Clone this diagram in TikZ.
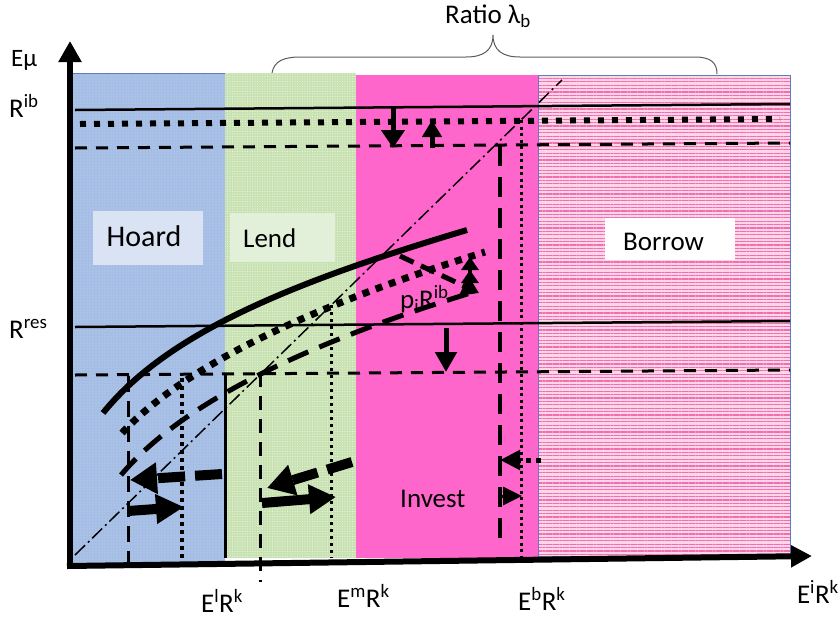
\documentclass[tikz,border=0pt]{standalone}
\usepackage{fontspec}
\setmainfont{Carlito}
\usetikzlibrary{arrows.meta,patterns.meta}

\definecolor{hoardblue}{RGB}{164,189,228}
\definecolor{hoarddot}{RGB}{196,212,240}
\definecolor{lendgreen}{RGB}{200,225,176}
\definecolor{lenddot}{RGB}{234,244,224}
\definecolor{investpink}{RGB}{255,102,204}
\definecolor{borrowbase}{RGB}{255,214,232}
\definecolor{borrowline}{RGB}{242,110,178}
\definecolor{frameblue}{RGB}{96,124,190}
\definecolor{hoardlabel}{RGB}{218,227,243}
\definecolor{lendlabel}{RGB}{226,239,217}
\definecolor{bracegray}{RGB}{90,90,90}

\begin{document}
\begin{tikzpicture}[x=1pt,y=-1pt,
  lbl/.style={font=\fontsize{27}{30}\selectfont, inner sep=0pt},
  level/.style={line width=2.5pt},
  levelsq/.style={line width=6pt, dash pattern=on 6pt off 8pt},
  leveldash/.style={line width=3pt, dash pattern=on 12pt off 9pt},
  dashdot/.style={line width=1.5pt, dash pattern=on 14pt off 4pt on 2pt off 4pt},
  curvesolid/.style={line width=6pt},
  curvedot/.style={line width=7pt, dash pattern=on 7pt off 7pt},
  curvedash/.style={line width=5pt, dash pattern=on 22pt off 12pt},
  bigarrow/.style={line width=10pt, -{Triangle[length=27pt,width=30pt]}},
  smallarrow/.style={line width=5pt, -{Triangle[length=18pt,width=21pt]}}
]
\useasboundingbox (0,0) rectangle (840,619);

% regions
\fill[hoardblue] (68,73) rectangle (225,566);
\fill[pattern={Dots[distance=3pt,radius=0.6pt]}, pattern color=hoarddot] (68,73) rectangle (225,566);
\draw[frameblue, line width=1pt] (68,73) -- (225,73);
\fill[lendgreen] (225,73) rectangle (356,558);
\fill[pattern={Dots[distance=2.5pt,radius=0.55pt]}, pattern color=lenddot] (225,73) rectangle (356,558);
\fill[investpink] (356,75) rectangle (538,558);
\fill[borrowbase] (538,75) rectangle (790,556);
\fill[pattern={Lines[angle=0,distance=3.4pt,line width=1.1pt]}, pattern color=borrowline] (538,75) rectangle (790,556);
\draw[frameblue, line width=1pt] (538,75) rectangle (790,556);

% region labels
\node[fill=hoardlabel, minimum width=110pt, minimum height=54pt, inner sep=0pt] (hoardbox) at (148,238) {};
\node[lbl, font=\fontsize{30}{33}\selectfont, anchor=base] (hoard) at (144,246) {Hoard};
\node[fill=lendlabel, minimum width=105pt, minimum height=49pt, inner sep=0pt] (lendbox) at (282,237) {};
\node[lbl, anchor=base west] (lend) at (243,247) {Lend};
\node[fill=white, minimum width=130pt, minimum height=42pt, inner sep=0pt] (borrowbox) at (670,239) {};
\node[lbl, anchor=base west] (borrow) at (623,250) {Borrow};
\node[lbl, anchor=base west] (invest) at (400,507) {Invest};

% brace over the ratio
\draw[bracegray, line width=1pt] (272,73) .. controls (274,61) and (284,57) .. (300,57)
  -- (466,57) .. controls (484,57) and (493,50) .. (493,35)
  .. controls (493,50) and (502,57) .. (520,57)
  -- (695,57) .. controls (711,57) and (717,63) .. (717,74);
\node[lbl, anchor=base west] (ratio) at (445,23) {Ratio λ\textsubscript{b}};

% rate levels
\draw[level] (75,110) -- (790,104);
\draw[levelsq] (80,124) -- (780,119);
\draw[leveldash] (75,148) -- (790,143);
\draw[level] (75,327) -- (790,321);
\draw[leveldash] (75,375) -- (790,370);

% 45-degree reference line
\draw[dashdot] (75,555) -- (562,80);

% curves
\draw[curvesolid] (103,413) .. controls (170,330) and (300,280) .. (467,230);
\draw[curvedot] (122,433) .. controls (190,360) and (330,300) .. (485,252);
\draw[curvedash] (121,475) .. controls (180,405) and (300,345) .. (477,291);
\node[lbl, anchor=base west] (pirib) at (400,308) {p\textsubscript{i}R\textsuperscript{ib}};

% threshold verticals
\draw[line width=3pt, dash pattern=on 16pt off 9pt] (128,376) -- (128,563);
\draw[line width=4pt, dash pattern=on 4pt off 4pt] (182,378) -- (182,558);
\draw[line width=3pt] (225,373) -- (225,558);
\draw[line width=3pt, dash pattern=on 14pt off 9pt] (260,373) -- (260,582);
\draw[line width=3pt, dash pattern=on 3pt off 4pt] (331,305) -- (331,558);
\draw[line width=4pt, dash pattern=on 20pt off 11pt] (500,146) -- (500,548);
\draw[line width=3pt, dash pattern=on 3pt off 3.5pt] (521,120) -- (521,556);

% shifts
\draw[smallarrow, -{Triangle[length=18pt,width=23pt]}] (393,106) -- (393,148);
\draw[smallarrow, -{Triangle[length=17pt,width=19pt]}] (432,148) -- (432,120);
\draw[smallarrow, -{Triangle[length=20pt,width=21pt]}] (446,328) -- (446,372);
\draw[line width=4pt, -{Triangle[length=13pt,width=17pt] Triangle[length=13pt,width=17pt]}] (470,290) -- (470,257);
\draw[line width=5pt, dash pattern=on 15pt off 8pt, -{Triangle[length=17pt,width=21pt]}] (400,256) -- (479,293);
\draw[bigarrow, dash pattern=on 27pt off 10pt] (222,474) -- (130,480);
\draw[bigarrow, -{Triangle[length=28pt,width=28pt]}] (128,511) -- (184,507);
\draw[bigarrow, dash pattern=on 26pt off 10pt] (352,462) -- (267,488);
\draw[bigarrow, -{Triangle[length=27pt,width=28pt]}] (262,503) -- (336,497);
\draw[line width=5pt, dash pattern=on 5pt off 5pt, -{Triangle[length=20pt,width=19pt]}] (541,460) -- (500,460);
\draw[line width=3pt, -{Triangle[length=19pt,width=18pt]}] (502,496) -- (522,496);

% axes
\coordinate (origin) at (67,566);
\coordinate (ytop) at (70,41);
\coordinate (xend) at (812,556);
\draw[line width=6pt, -{Triangle[length=21pt,width=22pt]}] (70,569) -- (ytop);
\draw[line width=6pt, -{Triangle[length=21pt,width=21pt]}] (origin) -- (xend);

% axis labels
\node[lbl, font=\fontsize{25}{28}\selectfont, anchor=base west] (emu) at (11,66) {Eμ};
\node[lbl, anchor=base west] (rib) at (9,117) {R\textsuperscript{ib}};
\node[lbl, anchor=base west] (rres) at (9,338) {R\textsuperscript{res}};
\node[lbl, anchor=base west] (elrk) at (201,612) {E\textsuperscript{l}R\textsuperscript{k}};
\node[lbl, anchor=base west] (emrk) at (337,607) {E\textsuperscript{m}R\textsuperscript{k}};
\node[lbl, anchor=base west] (ebrk) at (518,610) {E\textsuperscript{b}R\textsuperscript{k}};
\node[lbl, anchor=base east] (eirk) at (839,603) {E\textsuperscript{i}R\textsuperscript{k}};
\end{tikzpicture}
\end{document}
